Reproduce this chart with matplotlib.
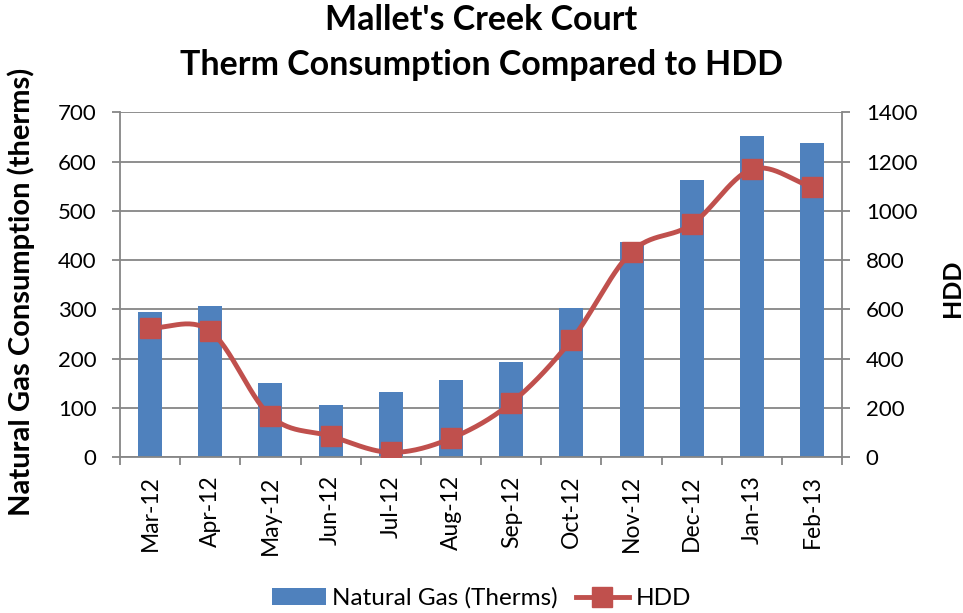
import matplotlib
matplotlib.use("Agg")
import matplotlib.pyplot as plt
import numpy as np

months = ["Mar-12", "Apr-12", "May-12", "Jun-12", "Jul-12", "Aug-12",
          "Sep-12", "Oct-12", "Nov-12", "Dec-12", "Jan-13", "Feb-13"]
therms = [294, 307, 150, 106, 132, 156, 193, 303, 437, 562, 652, 638]
hdd = [526, 512, 167, 86, 20, 77, 221, 476, 834, 945, 1169, 1097]

BLUE = "#4F81BD"
RED = "#C0504D"
GRID = "#868686"

plt.rcParams["font.family"] = ["Lato", "DejaVu Sans"]


def smooth(xs, ys, n=30):
    # Catmull-Rom style curve through the points, like Excel's smoothed line
    xs = np.asarray(xs, float)
    ys = np.asarray(ys, float)
    px = np.concatenate([[2 * xs[0] - xs[1]], xs, [2 * xs[-1] - xs[-2]]])
    py = np.concatenate([[2 * ys[0] - ys[1]], ys, [2 * ys[-1] - ys[-2]]])
    out_x, out_y = [], []
    t = np.linspace(0, 1, n)
    for i in range(1, len(px) - 2):
        for p, out in ((px, out_x), (py, out_y)):
            p0, p1, p2, p3 = p[i - 1], p[i], p[i + 1], p[i + 2]
            out.extend(0.5 * ((2 * p1) + (-p0 + p2) * t
                              + (2 * p0 - 5 * p1 + 4 * p2 - p3) * t ** 2
                              + (-p0 + 3 * p1 - 3 * p2 + p3) * t ** 3))
    return np.array(out_x), np.array(out_y)


fig = plt.figure(figsize=(9.63, 6.13), dpi=100)
ax = fig.add_axes([0.1246, 0.254, 0.75, 0.5628])
x = np.arange(len(months))

bars = ax.bar(x, therms, width=0.4, color=BLUE, zorder=2, label="Natural Gas (Therms)")
ax.set_ylim(0, 700)
ax.set_xlim(-0.5, len(months) - 0.5)
ax.set_yticks(range(0, 701, 100))
ax.yaxis.grid(True, color=GRID, linewidth=1.3, zorder=0)
ax.set_axisbelow(True)
ax.set_xticks(x)
ax.set_xticklabels(months, rotation=90, fontsize=16.5)
ax.tick_params(axis="x", length=0, pad=13)
ax.set_xticks(np.arange(-0.5, len(months), 1), minor=True)
ax.tick_params(axis="x", which="minor", length=6, color=GRID, width=1.3)
ax.tick_params(axis="y", labelsize=16, length=6, color=GRID, width=1.3, pad=11)
for s in ["top", "right"]:
    ax.spines[s].set_visible(False)
for s in ["left", "bottom"]:
    ax.spines[s].set_color(GRID)
    ax.spines[s].set_linewidth(1.3)
ax.set_ylabel("Natural Gas Consumption (therms)", fontsize=21, fontweight="bold")
ax.yaxis.set_label_coords(-0.117, 0.48)

ax2 = ax.twinx()
ax2.set_ylim(0, 1400)
ax2.set_yticks(range(0, 1401, 200))
ax2.tick_params(axis="y", labelsize=16, length=6, color=GRID, width=1.3, pad=11)
for s in ["top", "left", "bottom"]:
    ax2.spines[s].set_visible(False)
ax2.spines["right"].set_color(GRID)
ax2.spines["right"].set_linewidth(1.3)
sx, sy = smooth(x, hdd)
ax2.plot(sx, sy, color=RED, linewidth=3.5, zorder=3)
ax2.plot(x, hdd, linestyle="none", marker="s", markersize=15, color=RED, zorder=4)
ax2.set_ylabel("HDD", fontsize=18, fontweight="bold")
ax2.yaxis.set_label_coords(1.137, 0.49)

fig.text(0.5, 0.967, "Mallet's Creek Court", ha="center", va="center",
         fontsize=24.5, fontweight="bold")
fig.text(0.5, 0.894, "Therm Consumption Compared to HDD", ha="center", va="center",
         fontsize=24.5, fontweight="bold")

line_handle = plt.Line2D([], [], color=RED, linewidth=3.5, marker="s", markersize=15)
fig.legend([bars, line_handle], ["Natural Gas (Therms)", "HDD"], loc="center",
           bbox_to_anchor=(0.5, 0.024), ncol=2, frameon=False, fontsize=17.5,
           handlelength=2.2, handleheight=0.65, columnspacing=0.75, handletextpad=0.25)

fig.savefig("out.png", dpi=100)
